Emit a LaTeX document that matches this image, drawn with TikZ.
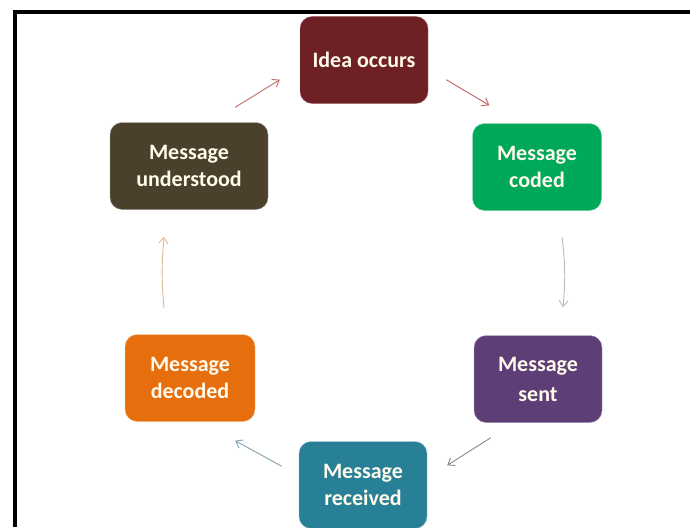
\documentclass[tikz,border=0pt]{standalone}
\usepackage{fontspec}
\setmainfont{Carlito}
\usetikzlibrary{arrows.meta}
\definecolor{cidea}{RGB}{110,32,36}
\definecolor{ccoded}{RGB}{0,168,90}
\definecolor{csent}{RGB}{94,62,118}
\definecolor{crecv}{RGB}{40,128,150}
\definecolor{cdec}{RGB}{230,110,12}
\definecolor{cund}{RGB}{74,64,44}
\definecolor{ctext}{RGB}{255,250,235}
\tikzset{
  box/.style={rounded corners=12pt, minimum width=128pt, minimum height=87pt,
    text=ctext, font=\fontsize{22}{27}\selectfont\bfseries, align=center, inner sep=2pt},
  conn/.style={-{Straight Barb[length=6pt,width=9pt]}, line width=0.9pt},
}
\begin{document}
\begin{tikzpicture}[x=1pt,y=1pt]
\useasboundingbox (0,0) rectangle (690,-527);
\fill[white] (0,0) rectangle (690,-527);
\draw[line width=4pt, black] (15,-527) -- (15,-12) -- (690,-12);
\node[box, fill=cidea, draw=cidea!60!white] (idea) at (364,-60) {Idea occurs};
\node[box, fill=ccoded, draw=ccoded!50!white, minimum width=129pt] (coded) at (537,-167) {Message\\coded};
\node[box, fill=csent, draw=csent!50!white] (sent) at (538,-379) {Message\\[3pt]sent};
\node[box, fill=crecv, draw=crecv!50!white] (recv) at (363,-485) {Message\\received};
\node[box, fill=cdec, draw=cdec!40!white, minimum width=130pt] (dec) at (190,-378) {Message\\decoded};
\node[box, fill=cund, draw=cund!50!white, minimum width=158pt] (und) at (189,-166) {Message\\understood};
\draw[conn, draw={rgb,255:red,195;green,95;blue,95}]
  ([shift={(18pt,24pt)}]idea.south east) -- ([shift={(17pt,18pt)}]coded.north west);
\draw[conn, draw={rgb,255:red,185;green,192;blue,175}]
  ([shift={(25pt,-26pt)}]coded.south) to[bend left=6] ([shift={(25pt,28pt)}]sent.north);
\draw[conn, draw={rgb,255:red,135;green,135;blue,145}]
  ([shift={(17pt,-15pt)}]sent.south west) -- ([shift={(20pt,-24pt)}]recv.north east);
\draw[conn, draw={rgb,255:red,130;green,160;blue,175}]
  ([shift={(-17pt,-25pt)}]recv.north west) -- ([shift={(-20pt,-19pt)}]dec.south east);
\draw[conn, draw={rgb,255:red,222;green,185;blue,150}]
  ([shift={(-26pt,26pt)}]dec.north) to[bend left=5] ([shift={(-25pt,-27pt)}]und.south);
\draw[conn, draw={rgb,255:red,190;green,110;blue,100}]
  ([shift={(-33pt,15pt)}]und.north east) -- ([shift={(-20pt,24pt)}]idea.south west);
\end{tikzpicture}
\end{document}
